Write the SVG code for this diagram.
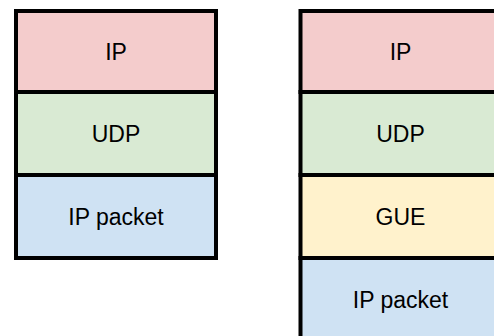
<svg xmlns="http://www.w3.org/2000/svg" width="494" height="336" viewBox="0 0 494 336">
<style>
rect{stroke:#000;stroke-width:4;stroke-linejoin:miter}
.ip{fill:#f4cccc}
.udp{fill:#d9ead3}
.gue{fill:#fff2cc}
.pkt{fill:#cfe2f3}
text{font-family:"Liberation Sans",Arial,sans-serif;font-size:23px;fill:#000;text-anchor:middle}
</style>
<rect width="494" height="336" fill="#fff" style="stroke:none"/>
<g id="left-ip"><rect class="ip" x="16" y="11" width="200" height="81"/><text x="116" y="59.5">IP</text></g>
<g id="left-udp"><rect class="udp" x="16" y="92" width="200" height="83"/><text x="116" y="141.5">UDP</text></g>
<g id="left-packet"><rect class="pkt" x="16" y="175" width="200" height="83"/><text x="116" y="224.5">IP packet</text></g>
<g id="right-ip"><rect class="ip" x="300.5" y="11" width="200" height="81"/><text x="400.5" y="59.5">IP</text></g>
<g id="right-udp"><rect class="udp" x="300.5" y="92" width="200" height="83"/><text x="400.5" y="141.5">UDP</text></g>
<g id="right-gue"><rect class="gue" x="300.5" y="175" width="200" height="83"/><text x="400.5" y="224.5">GUE</text></g>
<g id="right-packet"><rect class="pkt" x="300.5" y="258" width="200" height="83"/><text x="400.5" y="307.5">IP packet</text></g>
</svg>
